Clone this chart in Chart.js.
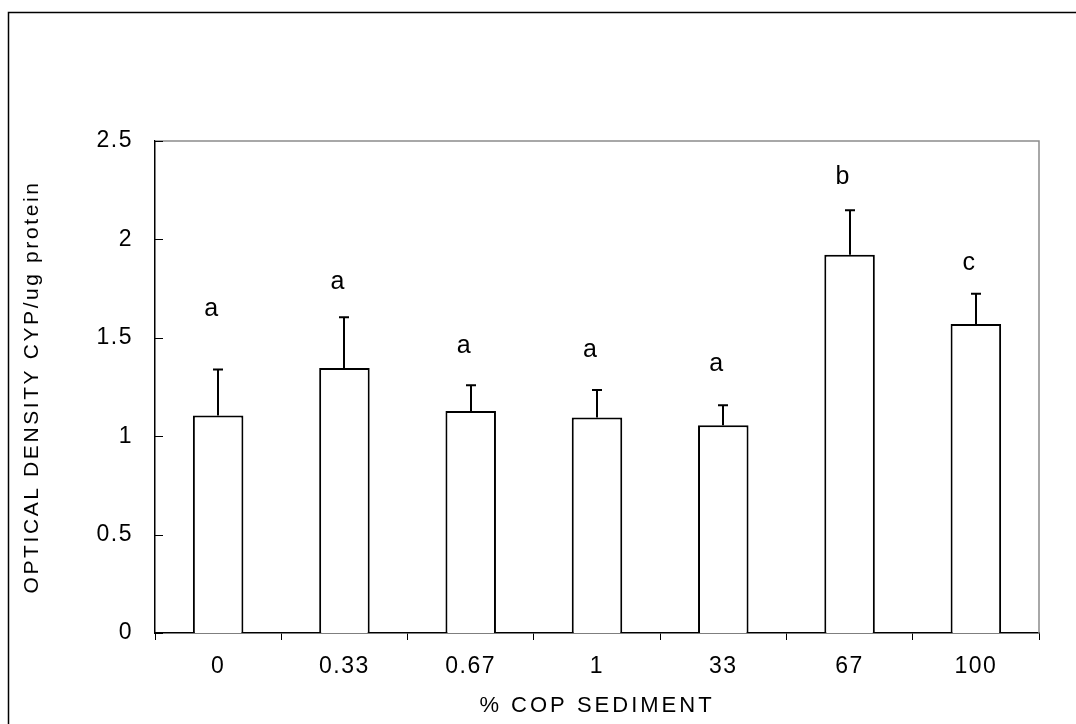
<!DOCTYPE html>
<html lang="en">
<head>
  <meta charset="UTF-8">
  <title>Optical density CYP vs % COP sediment</title>
  <script src="https://cdn.jsdelivr.net/npm/chart.js"></script>
  <style>
    html, body { margin: 0; padding: 0; background: #ffffff; }
    canvas { display: block; }
  </style>
</head>
<body>
  <canvas id="barChart" width="1076" height="724"></canvas>

  <script>
    const categories = ['0', '0.33', '0.67', '1', '33', '67', '100'];
    const meanValues = [1.105, 1.347, 1.128, 1.095, 1.056, 1.922, 1.570];
    const errorValues = [0.234, 0.257, 0.131, 0.140, 0.101, 0.226, 0.154];
    const groupLetters = ['a', 'a', 'a', 'a', 'a', 'b', 'c'];
    const letterLevels = [1.611, 1.747, 1.423, 1.403, 1.332, 2.283, 1.842];
    const yTicks = [0, 0.5, 1, 1.5, 2, 2.5];

    const fontFamily = '"Liberation Sans", Arial, Helvetica, sans-serif';
    const spacing = '1.5px';

    // give an axis title its own letter spacing
    function spaceTitle(scale, ls) {
      if (!scale || scale._spaced) return;
      const orig = scale.drawTitle;
      scale.drawTitle = function (...args) {
        const c = this.ctx;
        const prev = c.letterSpacing;
        c.letterSpacing = ls;
        orig.apply(this, args);
        c.letterSpacing = prev;
      };
      scale._spaced = true;
    }

    // frame, gray plot border, inward y ticks, error bars and letters
    const extrasPlugin = {
      id: 'extras',
      beforeUpdate(chart) {
        chart.ctx.letterSpacing = spacing;
      },
      afterLayout(chart) {
        spaceTitle(chart.scales.x, '3px');
        spaceTitle(chart.scales.y, '2.6px');
      },
      beforeDraw(chart) {
        const ctx = chart.ctx;
        ctx.letterSpacing = spacing;
        ctx.save();
        ctx.strokeStyle = '#000';
        ctx.lineWidth = 1.5;
        ctx.beginPath();
        ctx.moveTo(8.5, chart.height + 5);
        ctx.lineTo(8.5, 12.5);
        ctx.lineTo(chart.width + 5, 12.5);
        ctx.stroke();
        ctx.restore();
      },
      afterDraw(chart) {
        const ctx = chart.ctx;
        const area = chart.chartArea;
        const xs = chart.scales.x;
        const ys = chart.scales.y;
        ctx.save();

        // top and right edges of the plot
        ctx.strokeStyle = '#8c8c8c';
        ctx.lineWidth = 1.5;
        ctx.beginPath();
        ctx.moveTo(area.left, area.top);
        ctx.lineTo(area.right, area.top);
        ctx.lineTo(area.right, area.bottom);
        ctx.stroke();

        // y ticks pointing inward
        ctx.strokeStyle = '#000';
        ctx.lineWidth = 1;
        yTicks.forEach(v => {
          const y = Math.round(ys.getPixelForValue(v)) + 0.5;
          ctx.beginPath();
          ctx.moveTo(area.left, y);
          ctx.lineTo(area.left + 8, y);
          ctx.stroke();
        });

        // error bars (upper only)
        ctx.lineWidth = 2;
        meanValues.forEach((m, i) => {
          const x = Math.round(xs.getPixelForValue(i));
          const y1 = ys.getPixelForValue(m);
          const y2 = ys.getPixelForValue(m + errorValues[i]);
          ctx.beginPath();
          ctx.moveTo(x, y1);
          ctx.lineTo(x, y2);
          ctx.moveTo(x - 5, y2);
          ctx.lineTo(x + 5, y2);
          ctx.stroke();
        });

        // significance letters
        ctx.fillStyle = '#000';
        ctx.font = '25px ' + fontFamily;
        ctx.letterSpacing = '0px';
        ctx.textAlign = 'center';
        ctx.textBaseline = 'alphabetic';
        groupLetters.forEach((t, i) => {
          ctx.fillText(t, xs.getPixelForValue(i) - 7, ys.getPixelForValue(letterLevels[i]));
        });
        ctx.restore();
        ctx.letterSpacing = spacing;
      }
    };

    const ctxBar = document.getElementById('barChart').getContext('2d');

    const barChart = new Chart(ctxBar, {
      type: 'bar',
      data: {
        labels: categories,
        datasets: [{
          data: meanValues,
          backgroundColor: '#ffffff',
          borderColor: '#000000',
          borderWidth: 2,
          barPercentage: 0.4,
          categoryPercentage: 1.0
        }]
      },
      options: {
        responsive: false,
        animation: false,
        layout: { padding: { left: 20, top: 141, right: 37, bottom: 0 } },
        plugins: {
          legend: { display: false },
          tooltip: { enabled: false }
        },
        scales: {
          x: {
            grid: {
              offset: true,
              drawOnChartArea: false,
              drawTicks: true,
              tickLength: 7,
              color: '#000',
              lineWidth: 1
            },
            border: { display: true, color: '#000', width: 1.5 },
            ticks: {
              color: '#000',
              font: { family: fontFamily, size: 23 },
              padding: 13,
              maxRotation: 0,
              autoSkip: false
            },
            title: {
              display: true,
              text: '% COP SEDIMENT',
              color: '#000',
              font: { family: fontFamily, size: 22 },
              padding: { top: 0, bottom: 5 }
            },
            afterFit(scale) { scale.height = 91; }
          },
          y: {
            min: 0,
            max: 2.5,
            ticks: {
              stepSize: 0.5,
              color: '#000',
              font: { family: fontFamily, size: 23 },
              padding: 22,
              callback: v => String(v)
            },
            grid: { display: false, drawTicks: false },
            border: { display: true, color: '#000', width: 1.5 },
            title: {
              display: true,
              text: 'OPTICAL DENSITY CYP/ug protein',
              color: '#000',
              font: { family: fontFamily, size: 21 },
              padding: { top: 0, bottom: 0 }
            },
            afterFit(scale) { scale.width = 135; }
          }
        }
      },
      plugins: [extrasPlugin]
    });
  </script>
</body>
</html>
